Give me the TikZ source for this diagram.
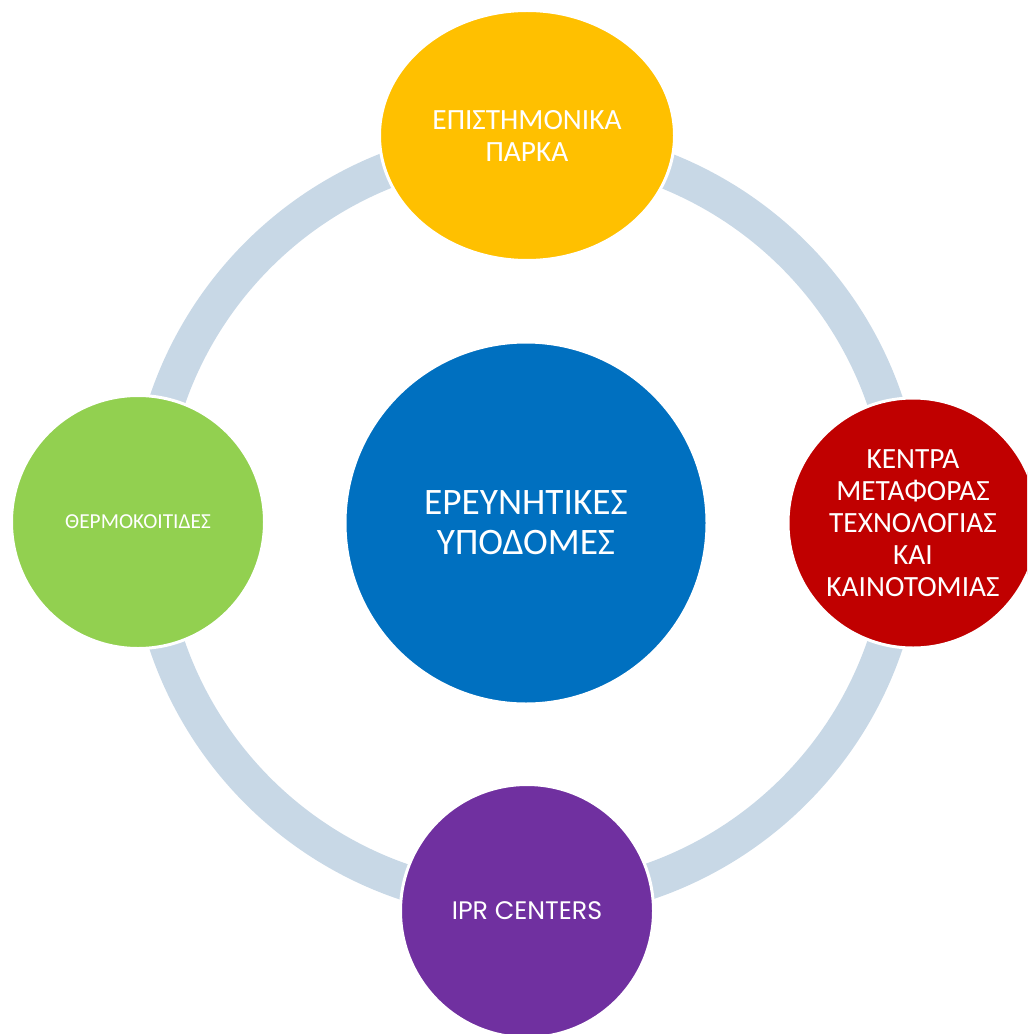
\documentclass[tikz,border=0pt]{standalone}
\usepackage{fontspec}
\setmainfont{Carlito}
\newfontfamily\iprfont{Poppins}
\usetikzlibrary{shapes.geometric}
\definecolor{ringblue}{HTML}{C8D8E6}
\definecolor{coreblue}{HTML}{0070C0}
\definecolor{parkyellow}{HTML}{FFC000}
\definecolor{thermogreen}{HTML}{92D050}
\definecolor{kttred}{HTML}{C00000}
\definecolor{iprpurple}{HTML}{7030A0}
\tikzset{% This is the style settings for the circles
    b/.style={circle, draw=white, line width=2.25pt, inner sep=0pt, text=white, align=center},
    ring/.style={draw=ringblue, line width=27pt}}

\begin{document}
\begin{tikzpicture}[x=0.75pt, y=-0.75pt]
    \useasboundingbox (0,0) rectangle (1027,1034);
    \clip (0,0) rectangle (1027,1034);
    \coordinate (o) at (526,523);

    \draw[ring] (o) circle[radius=284.25pt];

    \node[b, fill=coreblue, minimum size=271.5pt, font=\fontsize{28}{30}\selectfont] (core) at (o) {ΕΡΕΥΝΗΤΙΚΕΣ\\ΥΠΟΔΟΜΕΣ};
    \node[b, ellipse, fill=parkyellow, minimum width=221.25pt, minimum height=187.5pt, font=\fontsize{22}{24}\selectfont] (parks) at (527,135.5) {ΕΠΙΣΤΗΜΟΝΙΚΑ\\ΠΑΡΚΑ};
    \node[b, fill=thermogreen, minimum size=189.75pt, font=\fontsize{16}{19}\selectfont] (thermo) at (138,522) {ΘΕΡΜΟΚΟΙΤΙΔΕΣ};
    \node[b, fill=kttred, minimum size=187.5pt, font=\fontsize{22}{24}\selectfont] (ktt) at (913,523) {ΚΕΝΤΡΑ\\ΜΕΤΑΦΟΡΑΣ\\ΤΕΧΝΟΛΟΓΙΑΣ\\ΚΑΙ\\ΚΑΙΝΟΤΟΜΙΑΣ};
    \node[b, fill=iprpurple, minimum size=189.75pt, font=\iprfont\fontsize{19}{22}\selectfont] (ipr) at (527,911) {IPR CENTERS};
\end{tikzpicture}
\end{document}
